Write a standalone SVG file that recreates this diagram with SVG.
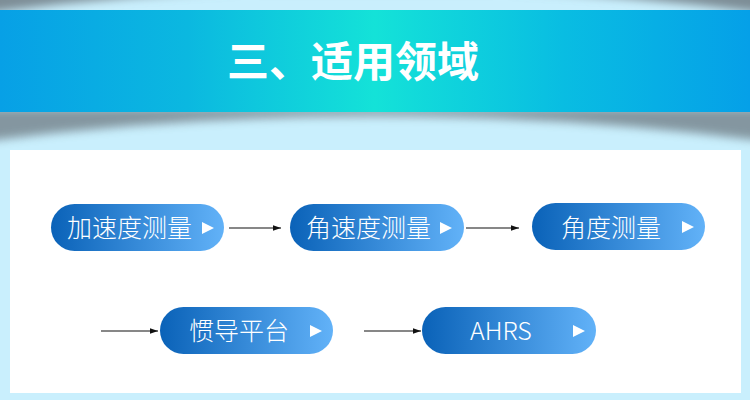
<svg xmlns="http://www.w3.org/2000/svg" width="750" height="400" viewBox="0 0 750 400">
<defs>
<linearGradient id="banner" x1="0" y1="0" x2="1" y2="0">
<stop offset="0" stop-color="#07a0e6"/>
<stop offset="0.25" stop-color="#0bb8e0"/>
<stop offset="0.5" stop-color="#14e2d8"/>
<stop offset="0.75" stop-color="#09bde2"/>
<stop offset="1" stop-color="#05a0e8"/>
</linearGradient>
<linearGradient id="pill" x1="0" y1="0" x2="1" y2="0">
<stop offset="0" stop-color="#0a62b8"/>
<stop offset="1" stop-color="#62b2f8"/>
</linearGradient>
<filter id="blur" x="-10%" y="-100%" width="120%" height="300%">
<feGaussianBlur stdDeviation="5"/>
</filter>
<marker id="arr" viewBox="0 0 10 10" refX="10" refY="5" markerWidth="8" markerHeight="8" markerUnits="userSpaceOnUse" orient="auto">
<path d="M0,1.5 L10,5 L0,8.5 Z" fill="#111"/>
</marker>
<style>
.pill{fill:url(#pill)}
.lbl{font-family:"Noto Sans CJK SC","Noto Sans",sans-serif;font-size:25px;font-weight:300;fill:#fff}
.tri{fill:#fff}
.conn line{stroke:#111;stroke-width:1.2;marker-end:url(#arr)}
</style>
</defs>
<rect width="750" height="400" fill="#c9effd"/>
<path d="M-20,-10 L770,-10 L770,14 Q375,-40 -20,14 Z" fill="#7d8d96" filter="url(#blur)"/>
<path d="M-20,108 L770,108 L770,142 Q375,90 -20,142 Z" fill="#7d8d96" opacity="0.9" filter="url(#blur)"/>
<rect x="0" y="10" width="750" height="102" fill="url(#banner)"/>
<text x="353" y="77" text-anchor="middle" font-family="Noto Sans CJK SC, sans-serif" font-size="42" font-weight="bold" fill="#fff">三、适用领域</text>
<rect x="10" y="150" width="731" height="243" fill="#fff"/>
<g class="conn">
<line x1="229" y1="228" x2="281" y2="228"/>
<line x1="466" y1="228" x2="519" y2="228"/>
<line x1="101" y1="331" x2="158" y2="331"/>
<line x1="364" y1="331" x2="421" y2="331"/>
</g>
<g id="n1">
<rect class="pill" x="51" y="204" width="173" height="47" rx="23.5"/>
<text class="lbl" x="67" y="237">加速度测量</text>
<path class="tri" d="M202,222 L214,228 L202,234 Z"/>
</g>
<g id="n2">
<rect class="pill" x="290" y="204" width="174" height="47" rx="23.5"/>
<text class="lbl" x="306" y="237">角速度测量</text>
<path class="tri" d="M440,222 L452,228 L440,234 Z"/>
</g>
<g id="n3">
<rect class="pill" x="532" y="203" width="173" height="47" rx="23.5"/>
<text class="lbl" x="561" y="236.5">角度测量</text>
<path class="tri" d="M682,221 L694,227 L682,233 Z"/>
</g>
<g id="n4">
<rect class="pill" x="160" y="307" width="173" height="47" rx="23.5"/>
<text class="lbl" x="189" y="340">惯导平台</text>
<path class="tri" d="M310,325 L322,331 L310,337 Z"/>
</g>
<g id="n5">
<rect class="pill" x="422" y="307" width="174" height="47" rx="23.5"/>
<text class="lbl" x="470" y="340">AHRS</text>
<path class="tri" d="M573,325 L585,331 L573,337 Z"/>
</g>
</svg>
